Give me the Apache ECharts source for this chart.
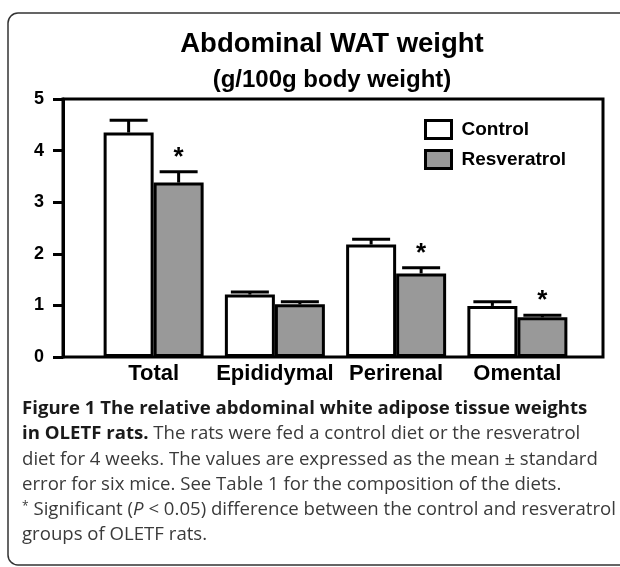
<!DOCTYPE html>
<html>
<head>
<meta charset="utf-8">
<script src="https://cdn.jsdelivr.net/npm/echarts@6/dist/echarts.min.js"></script>
<style>
  html, body { margin: 0; padding: 0; background: #fff; }
  #chart { width: 620px; height: 567px; }
</style>
</head>
<body>
<div id="chart"></div>
<script>
var categories = ['Total', 'Epididymal', 'Perirenal', 'Omental'];
var controlMean = [4.35, 1.21, 2.18, 0.99];
var controlSE = [0.24, 0.05, 0.10, 0.08];
var resvMean = [3.38, 1.02, 1.62, 0.77];
var resvSE = [0.21, 0.05, 0.11, 0.04];
var resvSignificant = [1, 0, 1, 1];
var yTicks = [0, 1, 2, 3, 4, 5];

var FONT = 'Liberation Sans, Arial, Helvetica, sans-serif';
var CAP_FONT = '"Open Sans", "Noto Sans", sans-serif';

var chart = echarts.init(document.getElementById('chart'));

function errData(means, ses, sig) {
  var out = [];
  for (var i = 0; i < means.length; i++) {
    out.push([i, means[i], ses[i], sig ? sig[i] : 0]);
  }
  return out;
}

function errorBars(offset) {
  return function (params, api) {
    var mean = api.value(1), se = api.value(2), star = api.value(3);
    var base = api.coord([api.value(0), mean]);
    var top = api.coord([api.value(0), mean + se]);
    var x = base[0] + offset;
    var kids = [
      { type: 'line', shape: { x1: x, y1: base[1], x2: x, y2: top[1] }, style: { stroke: '#000', lineWidth: 3 } },
      { type: 'line', shape: { x1: x - 19, y1: top[1], x2: x + 19, y2: top[1] }, style: { stroke: '#000', lineWidth: 3 } }
    ];
    if (star) {
      kids.push({ type: 'text', x: x, y: top[1] - 14,
        style: { text: '*', fill: '#000', font: 'bold 26px ' + FONT, align: 'center', verticalAlign: 'middle' } });
    }
    return { type: 'group', children: kids };
  };
}

var capLines = [
  '{b|Figure 1 The relative abdominal white adipose tissue weights}',
  '{b|in OLETF rats.}{r| The rats were fed a control diet or the resveratrol}',
  '{r|diet for 4 weeks. The values are expressed as the mean ± standard}',
  '{r|error for six mice. See Table 1 for the composition of the diets.}',
  '{s|*}{r| Significant (}{i|P}{r| < 0.05) difference between the control and resveratrol}',
  '{r|groups of OLETF rats.}'
];

var graphics = [{
  type: 'rect', z: -1,
  shape: { x: 8, y: 13, width: 700, height: 552, r: 10 },
  style: { fill: 'none', stroke: '#333', lineWidth: 1.5 }
}];
capLines.forEach(function (t, k) {
  graphics.push({
    type: 'text', x: 22, y: 409 + k * 25.2,
    style: {
      text: t, verticalAlign: 'middle',
      rich: {
        b: { fontFamily: CAP_FONT, fontSize: 18.6, fontWeight: 'bold', fill: '#1a1a1a' },
        r: { fontFamily: CAP_FONT, fontSize: 18.6, fill: '#3a3a3a' },
        i: { fontFamily: CAP_FONT, fontSize: 18.6, fontStyle: 'italic', fill: '#3a3a3a' },
        s: { fontFamily: CAP_FONT, fontSize: 12, fill: '#3a3a3a', verticalAlign: 'top' }
      }
    }
  });
});

var option = {
  backgroundColor: '#fff',
  animation: false,
  title: {
    text: 'Abdominal WAT weight',
    subtext: '(g/100g body weight)',
    left: 327, top: 25, textAlign: 'center', itemGap: 10,
    textStyle: { fontFamily: FONT, fontSize: 27.5, fontWeight: 'bold', color: '#000' },
    subtextStyle: { fontFamily: FONT, fontSize: 24, fontWeight: 'bold', color: '#000' }
  },
  legend: {
    orient: 'vertical', left: 419, top: 114,
    data: ['Control', 'Resveratrol'],
    icon: 'rect', itemWidth: 26, itemHeight: 18, itemGap: 9,
    itemStyle: { borderColor: '#000', borderWidth: 3 },
    textStyle: { fontFamily: FONT, fontSize: 19, fontWeight: 'bold', color: '#000', padding: [0, 0, 0, 5] }
  },
  grid: [
    { left: 63, right: 17, top: 99, bottom: 210, show: true, borderColor: '#000', borderWidth: 3 },
    { left: 93, right: 42, top: 99, bottom: 210 }
  ],
  xAxis: [
    { gridIndex: 0, type: 'value', show: false, min: 0, max: 1 },
    {
      gridIndex: 1, type: 'category', data: categories,
      axisLine: { show: false }, axisTick: { show: false },
      axisLabel: { interval: 0, margin: 6, fontFamily: FONT, fontSize: 22, fontWeight: 'bold', color: '#000' }
    }
  ],
  yAxis: [
    {
      gridIndex: 0, type: 'value', min: 0, max: 5, interval: 1,
      splitLine: { show: false },
      axisLine: { show: true, lineStyle: { color: '#000', width: 3 } },
      axisTick: { show: true, length: 10, lineStyle: { color: '#000', width: 3 } },
      axisLabel: { margin: 19, fontFamily: FONT, fontSize: 18, fontWeight: 'bold', color: '#000',
        formatter: function (v) { return yTicks.indexOf(v) >= 0 ? String(v) : ''; } }
    },
    { gridIndex: 1, type: 'value', min: 0, max: 5, show: false }
  ],
  series: [
    {
      name: 'Control', type: 'bar', xAxisIndex: 1, yAxisIndex: 1,
      data: controlMean, barWidth: 50, barGap: '0%',
      itemStyle: { color: '#fff', borderColor: '#000', borderWidth: 3 }
    },
    {
      name: 'Resveratrol', type: 'bar', xAxisIndex: 1, yAxisIndex: 1,
      data: resvMean, barWidth: 50, barGap: '0%',
      itemStyle: { color: '#999', borderColor: '#000', borderWidth: 3 }
    },
    {
      type: 'custom', xAxisIndex: 1, yAxisIndex: 1, z: 3,
      renderItem: errorBars(-25), data: errData(controlMean, controlSE)
    },
    {
      type: 'custom', xAxisIndex: 1, yAxisIndex: 1, z: 3,
      renderItem: errorBars(25), data: errData(resvMean, resvSE, resvSignificant)
    }
  ],
  graphic: graphics
};

chart.setOption(option);
</script>
</body>
</html>
